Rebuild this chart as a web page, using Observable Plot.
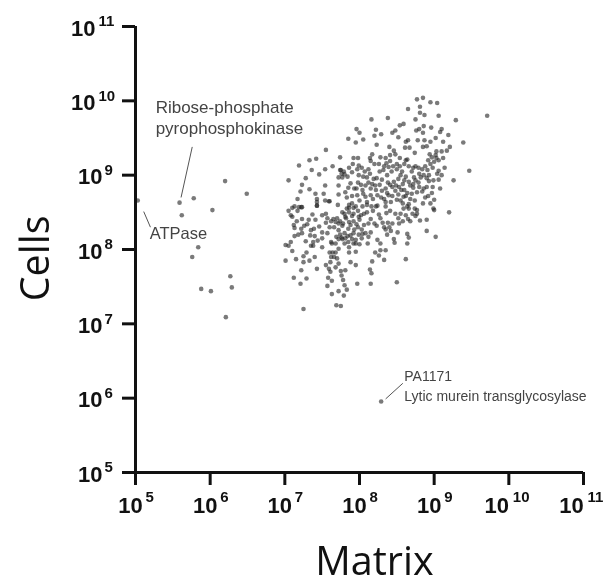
<!DOCTYPE html>
<html><head><meta charset="utf-8">
<script src="https://cdn.jsdelivr.net/npm/d3@7"></script>
<script src="https://cdn.jsdelivr.net/npm/@observablehq/plot@0.6"></script>
<style>html,body{margin:0;padding:0;background:#fff}svg{display:block}</style>
</head><body><div id="chart"></div>
<script>
// [log10 Matrix, log10 Cells]
const clusterUpper = [[8.77,10.02],[8.85,10.04],[8.95,9.98],[9.04,9.97],[8.65,9.89],[8.81,9.92],[8.81,9.84],[8.87,9.81],[9.06,9.80],[8.75,9.75],[8.38,9.77],[8.16,9.75],[9.71,9.80],[9.29,9.74],[8.59,9.69],[8.54,9.67],[8.48,9.60],[8.44,9.57],[8.76,9.60],[8.80,9.62],[8.86,9.66],[8.96,9.64],[9.10,9.62],[9.08,9.58],[8.85,9.57],[9.19,9.54],[9.02,9.50],[7.96,9.62],[8.00,9.57],[8.22,9.61],[8.29,9.55],[8.20,9.53],[8.05,9.48],[7.85,9.49],[7.95,9.44],[8.23,9.41],[8.52,9.51],[8.65,9.47],[8.62,9.45],[8.78,9.47],[8.87,9.47],[8.95,9.45],[9.12,9.45],[9.39,9.44],[9.21,9.38],[8.85,9.38],[8.90,9.39],[8.61,9.37],[8.67,9.37],[8.40,9.38],[7.55,9.34],[8.46,9.33],[8.74,9.30],[9.03,9.32],[9.10,9.32],[9.17,9.33],[8.94,9.28],[8.17,9.28],[8.14,9.23],[7.74,9.24],[7.42,9.22],[7.33,9.20],[7.19,9.13]];
const clusterMiddle = [[7.92,9.23],[7.98,9.23],[8.28,9.24],[8.35,9.23],[8.41,9.27],[8.48,9.28],[8.54,9.23],[8.64,9.21],[9.03,9.23],[9.00,9.18],[8.95,9.15],[9.12,9.23],[7.54,9.08],[7.64,9.12],[7.36,9.07],[7.46,9.01],[7.28,8.96],[7.05,8.93],[7.23,8.87],[7.33,8.81],[7.21,8.78],[7.17,8.68],[7.54,8.86],[7.52,8.75],[7.41,8.75],[7.43,8.68],[7.54,8.66],[7.60,8.65],[7.75,9.07],[7.80,9.01],[7.77,8.97],[7.91,9.15],[7.99,9.13],[8.15,9.19],[8.20,9.15],[8.26,9.15],[8.33,9.12],[8.39,9.11],[8.50,9.15],[8.62,9.20],[8.75,9.12],[8.79,9.10],[8.91,9.07],[9.06,9.06],[9.47,9.06],[9.26,8.93],[9.06,8.94],[8.99,8.93],[8.93,8.92],[8.86,9.00],[8.82,8.97],[8.73,8.97],[8.66,8.91],[8.55,9.00],[8.46,8.91],[8.37,9.00],[8.30,8.94],[8.19,8.95],[8.10,8.97],[7.99,9.00],[7.88,8.89],[7.93,8.82],[7.72,8.86],[7.81,8.77],[7.72,8.74],[7.97,8.73],[8.15,8.73],[8.08,8.71],[8.21,8.86],[8.24,8.73],[8.39,8.73],[8.48,8.79],[8.59,8.71],[8.68,8.86],[8.77,8.77],[8.86,8.82],[8.88,8.70],[8.97,8.76],[9.00,8.67],[9.08,8.82],[7.19,8.57],[7.10,8.56],[7.23,8.57],[7.43,8.59],[7.86,8.60],[7.86,8.50],[8.04,8.58],[8.16,8.58],[8.24,8.59],[8.35,8.58],[8.41,8.52],[8.64,8.58],[8.77,8.48],[9.00,8.53],[8.42,8.64],[8.02,8.87],[8.12,8.90],[8.30,8.79],[8.44,8.84],[8.58,8.88],[8.72,8.88],[8.90,8.84],[8.04,8.80],[8.56,8.80],[8.64,8.76],[8.33,8.68],[8.10,8.64],[8.55,8.66],[8.74,8.66],[8.95,8.62]];
const clusterLower = [[7.13,8.58],[7.22,8.57],[7.05,8.52],[7.08,8.46],[7.10,8.44],[7.43,8.59],[7.43,8.64],[7.59,8.65],[7.71,8.60],[7.77,8.50],[7.86,8.56],[7.92,8.56],[7.92,8.48],[8.10,8.60],[8.22,8.58],[8.35,8.64],[8.36,8.49],[8.48,8.48],[8.55,8.48],[8.59,8.55],[8.66,8.61],[8.66,8.55],[8.85,8.62],[8.99,8.55],[9.20,8.50],[8.77,8.53],[8.71,8.48],[7.23,8.41],[7.16,8.38],[7.32,8.40],[7.41,8.40],[7.37,8.47],[7.50,8.46],[7.55,8.48],[7.65,8.41],[7.68,8.37],[7.81,8.44],[7.86,8.37],[7.77,8.32],[7.72,8.26],[7.92,8.38],[7.99,8.44],[8.06,8.48],[8.15,8.41],[8.12,8.35],[8.23,8.32],[8.31,8.36],[8.38,8.36],[8.53,8.35],[8.65,8.41],[8.68,8.38],[8.81,8.39],[8.90,8.40],[8.90,8.25],[9.02,8.17],[7.13,8.29],[7.22,8.28],[7.23,8.22],[7.13,8.18],[7.35,8.26],[7.39,8.28],[7.34,8.19],[7.50,8.23],[7.57,8.22],[7.08,8.10],[7.01,8.06],[7.05,8.05],[7.28,8.11],[7.38,8.10],[7.35,8.05],[7.38,8.05],[7.50,8.03],[7.63,8.08],[7.72,8.14],[7.77,8.14],[7.81,8.15],[7.88,8.19],[7.95,8.13],[8.04,8.21],[8.15,8.23],[8.24,8.13],[8.28,8.08],[8.35,8.27],[8.37,8.20],[8.42,8.25],[8.46,8.14],[8.47,8.09],[8.51,8.23],[8.64,8.21],[8.66,8.16],[8.64,8.08],[8.11,8.08],[7.95,8.08],[7.86,8.03],[7.86,7.96],[7.95,7.97],[7.72,8.01],[7.68,7.96],[7.60,7.96],[7.64,7.96],[7.10,7.98],[7.29,7.96],[7.25,7.91],[7.01,7.85],[7.15,7.87],[7.25,7.83],[7.33,7.85],[7.66,7.90],[7.61,7.83],[7.55,7.79],[7.59,7.74],[7.43,7.74],[7.72,7.81],[7.68,7.76],[7.61,7.70],[7.75,7.71],[7.81,7.72],[7.88,7.83],[7.95,7.79],[8.17,7.84],[8.33,7.86],[8.62,7.87],[8.21,7.96],[8.26,7.92],[8.35,7.99],[8.28,7.99],[8.14,7.73],[8.16,7.68],[7.22,7.72],[7.12,7.62],[7.29,7.61],[7.21,7.54],[7.63,7.58],[7.78,7.59],[7.80,7.52],[7.83,7.46],[7.57,7.51],[7.72,7.44],[7.63,7.40],[7.79,7.38],[7.97,7.54],[8.15,7.54],[8.50,7.56],[7.69,7.25],[7.75,7.24],[7.25,7.20]];
const denseUpperBand = [[7.74,9.07],[7.79,9.05],[7.76,9.02],[7.72,8.97],[7.84,8.98],[7.90,9.04],[7.86,9.10],[7.97,9.08],[8.03,9.10],[8.07,9.05],[8.12,9.08],[8.05,8.98],[8.14,9.02],[8.17,8.88],[8.23,8.96],[8.27,9.05],[8.32,9.07],[8.36,9.16],[8.41,9.19],[8.45,9.12],[8.43,9.05],[8.50,9.08],[8.54,9.12],[8.57,9.05],[8.60,9.15],[8.66,9.12],[8.70,9.05],[8.72,9.10],[8.80,9.02],[8.84,9.08],[8.88,9.12],[8.92,9.20],[8.97,9.24],[9.02,9.27],[9.06,9.20],[9.14,9.10],[8.98,9.10],[9.04,9.02],[9.10,9.00],[8.93,9.00],[8.90,8.96],[8.75,8.93],[8.79,8.90],[8.62,8.98],[8.60,8.93],[8.52,8.95],[8.49,8.86],[8.53,8.84],[8.38,8.90],[8.41,8.87],[8.35,8.82],[8.27,8.87],[8.22,8.80],[8.15,8.82],[8.08,8.86],[7.98,8.90],[7.96,8.82],[7.85,8.83],[7.83,8.70],[7.90,8.72],[8.00,8.66],[8.05,8.75],[8.18,8.68],[8.29,8.70],[8.37,8.76],[8.44,8.72],[8.52,8.74],[8.60,8.80],[8.62,8.72],[8.70,8.75],[8.72,8.83],[8.80,8.84],[8.84,8.78],[8.92,8.72],[8.98,8.84],[8.50,8.67],[8.58,8.62],[8.68,8.68]];
const denseLowerBand = [[7.70,8.42],[7.74,8.38],[7.78,8.35],[7.82,8.42],[7.80,8.48],[7.90,8.45],[7.88,8.33],[7.96,8.34],[8.00,8.40],[7.98,8.30],[7.93,8.27],[8.03,8.27],[8.06,8.33],[7.85,8.28],[7.80,8.22],[7.74,8.20],[7.69,8.17],[7.76,8.16],[7.84,8.18],[7.90,8.14],[7.92,8.22],[7.99,8.20],[8.03,8.15],[8.08,8.22],[8.12,8.17],[7.80,8.08],[7.85,8.10],[7.92,8.08],[8.00,8.07],[7.68,8.08],[7.62,8.10],[7.72,8.35],[7.66,8.30],[7.62,8.38],[7.60,8.30],[7.57,8.42],[7.83,8.55],[7.90,8.62],[7.95,8.58],[7.98,8.52],[8.02,8.46],[8.10,8.50],[8.18,8.52],[8.26,8.47],[8.28,8.42],[8.20,8.35],[8.33,8.30],[8.40,8.30],[8.44,8.35],[8.52,8.42],[8.58,8.38],[8.62,8.46],[8.74,8.55],[8.75,8.45],[7.50,8.15],[7.44,8.12],[7.30,8.34],[7.17,8.52],[7.12,8.33],[7.26,8.32],[7.18,8.20],[7.46,8.31],[7.55,8.36],[7.40,8.18],[7.62,7.90],[7.70,7.88],[7.58,7.62],[7.76,7.65],[7.40,7.90]];
const leftOutliers = [[5.03,8.66],[5.59,8.63],[5.78,8.69],[6.20,8.92],[6.49,8.75],[6.03,8.53],[5.62,8.46],[5.84,8.03],[5.76,7.90],[6.27,7.64],[6.29,7.49],[5.88,7.47],[6.01,7.44],[6.21,7.09]];
const lyticPoint = [[8.29,5.955]];
const powers = [5,6,7,8,9,10,11];
const leaders = [
  {x1:5.61,y1:8.70,x2:5.76,y2:9.38},
  {x1:5.11,y1:8.51,x2:5.20,y2:8.30},
  {x1:8.35,y1:5.99,x2:8.58,y2:6.20}
];
const notes = [
  {x:5.27,y:9.91,t:"Ribose-phosphate",s:17},
  {x:5.27,y:9.63,t:"pyrophosphokinase",s:17},
  {x:5.19,y:8.21,t:"ATPase",s:16.5},
  {x:8.60,y:6.29,t:"PA1171",s:14},
  {x:8.60,y:6.02,t:"Lytic murein transglycosylase",s:14}
];

const pts = [...clusterUpper,...clusterMiddle,...clusterLower,...denseUpperBand,...denseLowerBand,...leftOutliers,...lyticPoint];
const p = v => 10 ** v;
const sans = "'Liberation Sans',Arial,sans-serif";
const single = powers.filter(d => d < 10);
const double = powers.filter(d => d >= 10);
const bold = {fontWeight:"bold",fill:"#111"};
const base = {...bold,fontSize:22};
const exp = {...bold,fontSize:15,textAnchor:"start"};
const chart = Plot.plot({
  width:606,height:581,marginLeft:135,marginRight:23,marginTop:26,marginBottom:109,
  style:{background:"#fff",fontFamily:sans},
  x:{type:"log",domain:[1e5,1e11]},
  y:{type:"log",domain:[1e5,1e11]},
  marks:[
    Plot.dot(pts,{x:d=>p(d[0]),y:d=>p(d[1]),r:2.3,fill:"#222",fillOpacity:0.6,stroke:"none"}),
    Plot.link(leaders,{x1:d=>p(d.x1),y1:d=>p(d.y1),x2:d=>p(d.x2),y2:d=>p(d.y2),stroke:"#555",strokeWidth:1}),
    Plot.text(notes,{x:d=>p(d.x),y:d=>p(d.y),text:"t",fontSize:"s",textAnchor:"start",fill:"#444"}),
    Plot.axisX(powers.map(p),{anchor:"bottom",tickSize:13,strokeWidth:3,stroke:"#111",tickFormat:()=>"",label:null}),
    Plot.axisY(powers.map(p),{anchor:"left",tickSize:13,strokeWidth:3,stroke:"#111",tickFormat:()=>"",label:null}),
    Plot.ruleY([1e5],{stroke:"#111",strokeWidth:3}),
    Plot.ruleX([1e5],{stroke:"#111",strokeWidth:3}),
    Plot.text(single,{x:p,y:1e5,text:()=>"10",dy:33,dx:-5,...base}),
    Plot.text(double,{x:p,y:1e5,text:()=>"10",dy:33,dx:-12,...base}),
    Plot.text(single,{x:p,y:1e5,text:String,dy:25,dx:10,...exp}),
    Plot.text(double,{x:p,y:1e5,text:String,dy:25,dx:4,...exp}),
    Plot.text(single,{x:1e5,y:p,text:()=>"10",dx:-33,dy:2,...base,textAnchor:"end"}),
    Plot.text(double,{x:1e5,y:p,text:()=>"10",dx:-40,dy:2,...base,textAnchor:"end"}),
    Plot.text(single,{x:1e5,y:p,text:String,dx:-31,dy:-5,...exp}),
    Plot.text(double,{x:1e5,y:p,text:String,dx:-37,dy:-5,...exp}),
    Plot.text(["Matrix"],{x:p(8.2),y:1e5,text:d=>d,dy:90,fontSize:39.5,fontFamily:"'Open Sans',sans-serif",fill:"#111"}),
    Plot.text(["Cells"],{x:1e5,y:p(7.88),text:d=>d,dx:-99,rotate:-90,fontSize:39.5,fontFamily:"'Open Sans',sans-serif",fill:"#111"})
  ]
});
chart.style.filter="blur(0.5px)";
document.getElementById("chart").append(chart);
</script>
</body></html>
